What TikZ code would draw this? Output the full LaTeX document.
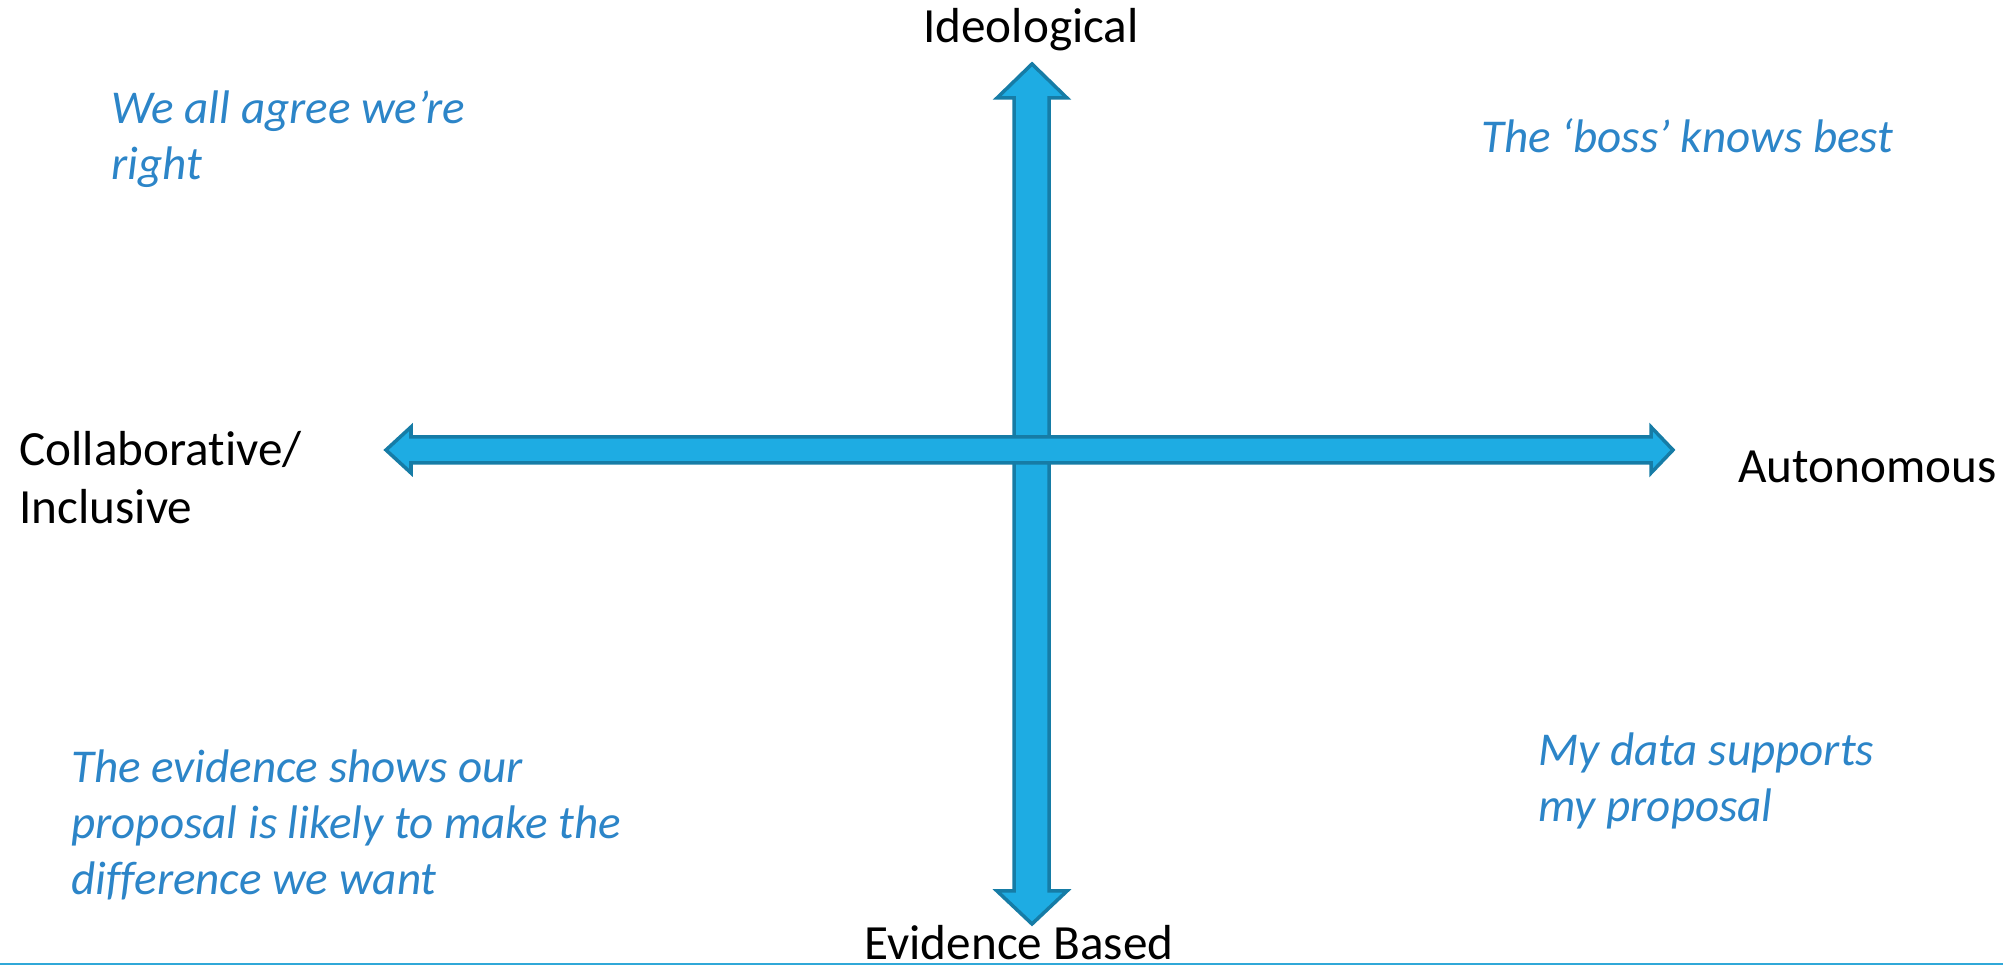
\documentclass[tikz,border=0pt]{standalone}
\usepackage{fontspec}
\setmainfont{Carlito}[Ligatures=NoCommon]
\definecolor{arrowfill}{RGB}{30,172,227}
\definecolor{arrowline}{RGB}{22,124,166}
\definecolor{quotetext}{RGB}{44,133,200}
\definecolor{rulecol}{RGB}{48,168,216}

\begin{document}
\begin{tikzpicture}[thick,
  axisarrow/.style={fill=arrowfill, draw=arrowline, line width=1pt, line join=miter},
  axislabel/.style={font=\fontsize{14}{16.5}\selectfont, inner sep=0pt},
  quotebox/.style={font=\fontsize{13.4}{16}\selectfont\itshape, text=quotetext, align=left, inner sep=0pt}]

\useasboundingbox (0,0) rectangle (20.03,9.65);

% Vertical arrow
\draw[axisarrow] (10.32,9.01) -- (10.67,8.67) -- (10.49,8.67) -- (10.49,0.74) -- (10.67,0.74)
  -- (10.32,0.41) -- (9.97,0.74) -- (10.14,0.74) -- (10.14,8.67) -- (9.97,8.67) -- cycle;

% Horizontal arrow
\draw[axisarrow] (3.86,5.15) -- (4.11,5.38) -- (4.11,5.28) -- (16.51,5.28) -- (16.51,5.38)
  -- (16.73,5.15) -- (16.51,4.92) -- (16.51,5.02) -- (4.11,5.02) -- (4.11,4.92) -- cycle;

% Axis labels (base = last line)
\node[axislabel, anchor=base] (ideo) at (10.31,9.22) {Ideological};
\node[axislabel, anchor=base] (evid) at (10.19,0.05) {Evidence Based};
\node[axislabel, anchor=base west, align=left] (collab) at (0.18,4.41) {Collaborative/\\Inclusive};
\node[axislabel, anchor=base west] (auto) at (17.37,4.82) {Autonomous};

% Quadrant texts
\node[quotebox, anchor=base west] (agree) at (1.10,7.85) {We all agree we’re\\right};
\node[quotebox, anchor=base west] (boss) at (14.80,8.12) {The ‘boss’ knows best};
\node[quotebox, anchor=base west] (evidence) at (0.70,0.70) {The evidence shows our\\proposal is likely to make the\\difference we want};
\node[quotebox, anchor=base west] (data) at (15.37,1.43) {My data supports\\my proposal};

% Bottom rule
\draw[rulecol, line width=0.6pt] (0,0.01) -- (20.03,0.01);
\end{tikzpicture}
\end{document}
